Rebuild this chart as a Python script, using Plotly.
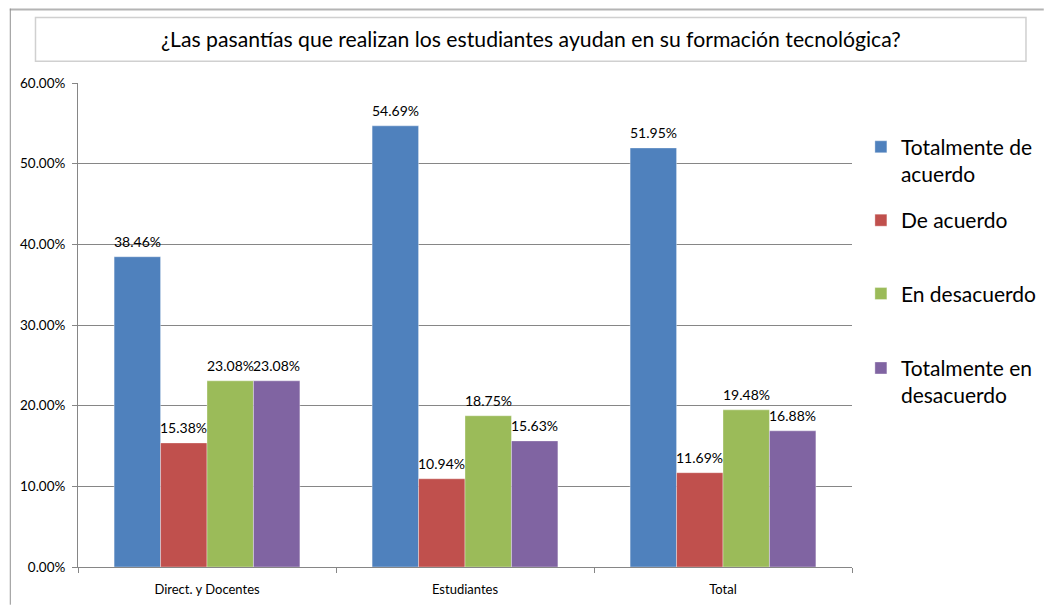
import plotly.graph_objects as go

categories = ["Direct. y Docentes", "Estudiantes", "Total"]
series_names = ["Totalmente de<br>acuerdo", "De acuerdo", "En desacuerdo", "Totalmente en<br>desacuerdo"]
totalmente_de_acuerdo = [0.3846, 0.5469, 0.5195]
de_acuerdo = [0.1538, 0.1094, 0.1169]
en_desacuerdo = [0.2308, 0.1875, 0.1948]
totalmente_en_desacuerdo = [0.2308, 0.1563, 0.1688]
colors = ["#4F81BD", "#C0504D", "#9BBB59", "#8064A2"]

title_text = "¿Las pasantías que realizan los estudiantes ayudan en su formación tecnológica?"
FONT = "Lato"
BARGAP = 0.28

# page is rendered with an 8px body margin, so the figure is shrunk by that
OFF = 8
W, H = 1054 - OFF, 609 - OFF
# plot area in page pixels
L, R, T, B = 77, 860, 83, 571


def px_x(x):
    return (x - L) / (R - L)


def px_y(y):
    return (B - y) / (B - T)


fig = go.Figure()
values = [totalmente_de_acuerdo, de_acuerdo, en_desacuerdo, totalmente_en_desacuerdo]
legend_ids = ["legend", "legend2", "legend3", "legend4"]
for name, vals, col, lg in zip(series_names, values, colors, legend_ids):
    fig.add_trace(go.Bar(
        x=categories,
        y=vals,
        name=name,
        marker=dict(color=col, line=dict(color="rgba(255,255,255,0.35)", width=1)),
        legend=lg,
    ))

# data labels above each bar (placed on the category axis at the bar's offset)
bar_w = (1 - BARGAP) / len(values)
for j, vals in enumerate(values):
    for i, v in enumerate(vals):
        fig.add_annotation(
            x=i + (j - (len(values) - 1) / 2) * bar_w, y=v,
            xref="x", yref="y",
            text=f"{v:.2%}", showarrow=False,
            xanchor="center", yanchor="bottom", yshift=5,
            font=dict(family=FONT, size=14, color="#000000"),
        )

legend_tops = [127, 201, 275, 350]
layout_legends = {}
for lg, top in zip(legend_ids, legend_tops):
    layout_legends[lg] = dict(
        x=px_x(869), xanchor="left",
        y=px_y(top), yanchor="top",
        font=dict(family=FONT, size=21, color="#000000"),
        valign="top",
        bgcolor="rgba(0,0,0,0)",
    )

fig.update_layout(
    width=W,
    height=H,
    margin=dict(l=L - OFF, r=1054 - R, t=T - OFF, b=609 - B),
    paper_bgcolor="white",
    plot_bgcolor="white",
    barmode="group",
    bargap=BARGAP,
    bargroupgap=0,
    showlegend=True,
    font=dict(family=FONT, size=13, color="#000000"),
    xaxis=dict(
        showline=True, linecolor="#868686", linewidth=1,
        ticks="outside", tickson="boundaries", ticklen=5, tickcolor="#868686",
        showgrid=False, ticklabelstandoff=10,
        tickfont=dict(family=FONT, size=13),
    ),
    yaxis=dict(
        range=[0, 0.6], dtick=0.1, tickformat=".2%",
        showline=True, linecolor="#868686", linewidth=1,
        ticks="outside", ticklen=5, tickcolor="#868686",
        showgrid=True, gridcolor="#868686", gridwidth=1,
        zeroline=False, ticklabelstandoff=4,
        tickfont=dict(family=FONT, size=13.5),
    ),
    **layout_legends,
)

# title box
fig.add_shape(
    type="rect", xref="paper", yref="paper",
    x0=px_x(34), x1=px_x(1036), y0=px_y(61), y1=px_y(17),
    line=dict(color="#D0D0D0", width=1.5), fillcolor="white", layer="below",
)
fig.add_annotation(
    text=title_text, xref="paper", yref="paper",
    x=px_x(535), y=px_y(39), xanchor="center", yanchor="middle",
    showarrow=False, font=dict(family=FONT, size=21.2, color="#000000"),
)

# outer chart border (top and left edges visible)
fig.add_shape(
    type="line", xref="paper", yref="paper",
    x0=px_x(OFF), x1=px_x(1054), y0=px_y(OFF + 1), y1=px_y(OFF + 1),
    line=dict(color="#B4B4B4", width=2),
)
fig.add_shape(
    type="line", xref="paper", yref="paper",
    x0=px_x(OFF + 0.5), x1=px_x(OFF + 0.5), y0=px_y(OFF), y1=px_y(609),
    line=dict(color="#909090", width=1),
)

fig.write_html("out.html")
